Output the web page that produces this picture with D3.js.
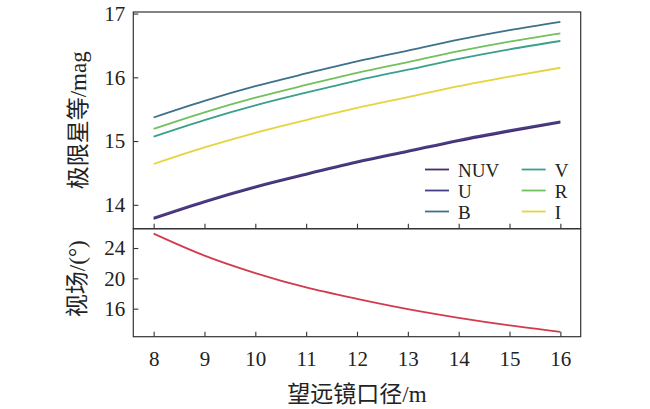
<!DOCTYPE html>
<html>
<head>
<meta charset="utf-8">
<script src="https://cdnjs.cloudflare.com/ajax/libs/d3/7.8.5/d3.min.js"></script>
<style>
  body { margin: 0; background: #fff; }
  svg text { font-family: "Liberation Serif", "Noto Sans CJK SC", serif; fill: #222; }
</style>
</head>
<body>
<svg id="chart" width="650" height="409"></svg>
<script>
// aperture (m)
const apertures = [8, 9, 10, 11, 12, 13, 14, 15, 16];

// limiting magnitude per band (mag)
const magNUV = [13.78, 14.04, 14.27, 14.47, 14.66, 14.83, 15.00, 15.15, 15.29];
const magU   = [13.80, 14.06, 14.29, 14.49, 14.68, 14.85, 15.02, 15.17, 15.31];
const magB   = [15.37, 15.63, 15.86, 16.06, 16.25, 16.42, 16.59, 16.74, 16.87];
const magV   = [15.07, 15.33, 15.56, 15.76, 15.95, 16.12, 16.29, 16.44, 16.57];
const magR   = [15.19, 15.45, 15.68, 15.88, 16.07, 16.24, 16.41, 16.56, 16.69];
const magI   = [14.64, 14.90, 15.13, 15.33, 15.52, 15.69, 15.86, 16.01, 16.15];

// field of view (deg)
const fov = [25.9, 23.0, 20.7, 18.8, 17.3, 15.95, 14.8, 13.8, 12.95];

const xTicks = [8, 9, 10, 11, 12, 13, 14, 15, 16];
const magTicks = [14, 15, 16, 17];
const fovTicks = [16, 20, 24];

const bands = [
  { name: 'NUV', values: magNUV, color: '#4a2a6e' },
  { name: 'U',   values: magU,   color: '#433f86' },
  { name: 'B',   values: magB,   color: '#3d7189' },
  { name: 'V',   values: magV,   color: '#38a08c' },
  { name: 'R',   values: magR,   color: '#72c05e' },
  { name: 'I',   values: magI,   color: '#e6d43e' }
];

const svg = d3.select('#chart');
const left = 133.3, right = 580.7;
const top1 = 12, bot1 = 228.7, bot2 = 336.7;
const axisColor = '#333';

const pad = (ext) => {
  const r = ext[1] - ext[0];
  return [ext[0] - r * 0.05, ext[1] + r * 0.05];
};

const x = d3.scaleLinear()
  .domain(pad(d3.extent(apertures)))
  .range([left, right]);

const allMag = bands.flatMap(b => b.values);
const yMag = d3.scaleLinear().domain(pad(d3.extent(allMag))).range([bot1, top1]);
const yFov = d3.scaleLinear().domain(pad(d3.extent(fov))).range([bot2, bot1]);

const fmt = d3.format('d');

function styleAxis(g) {
  g.attr('font-family', null);
  g.select('.domain').remove();
  g.selectAll('line').attr('stroke', axisColor).attr('stroke-width', 1.1);
  g.selectAll('text').style('font-size', '21px').attr('fill', '#222');
}

// top panel axes
svg.append('g')
  .attr('transform', `translate(${left},0)`)
  .call(d3.axisLeft(yMag).tickValues(magTicks).tickFormat(fmt).tickSize(-5).tickPadding(8))
  .call(styleAxis);

svg.append('g')
  .attr('transform', `translate(0,${bot1})`)
  .call(d3.axisBottom(x).tickValues(xTicks).tickSize(-5).tickFormat(''))
  .call(styleAxis);

// bottom panel axes
svg.append('g')
  .attr('transform', `translate(${left},0)`)
  .call(d3.axisLeft(yFov).tickValues(fovTicks).tickFormat(fmt).tickSize(-5).tickPadding(8))
  .call(styleAxis);

svg.append('g')
  .attr('transform', `translate(0,${bot2})`)
  .call(d3.axisBottom(x).tickValues(xTicks).tickFormat(fmt).tickSize(-5).tickPadding(14))
  .call(styleAxis);

// curves
const magLine = d3.line()
  .x((d, i) => x(apertures[i]))
  .y(d => yMag(d))
  .curve(d3.curveMonotoneX);

bands.forEach(b => {
  svg.append('path')
    .datum(b.values)
    .attr('d', magLine)
    .attr('fill', 'none')
    .attr('stroke', b.color)
    .attr('stroke-width', 1.8);
});

const fovLine = d3.line()
  .x((d, i) => x(apertures[i]))
  .y(d => yFov(d))
  .curve(d3.curveMonotoneX);

svg.append('path')
  .datum(fov)
  .attr('d', fovLine)
  .attr('fill', 'none')
  .attr('stroke', '#d23b4e')
  .attr('stroke-width', 1.8);

// frames
[[top1, bot1], [bot1, bot2]].forEach(([t, b]) => {
  svg.append('rect')
    .attr('x', left).attr('y', t)
    .attr('width', right - left).attr('height', b - t)
    .attr('fill', 'none')
    .attr('stroke', axisColor)
    .attr('stroke-width', 1.2);
});

// legend
const legendCols = [425, 521.7];
const legendRows = [169.5, 190.5, 211.5];
bands.forEach((b, i) => {
  const cx = legendCols[Math.floor(i / 3)];
  const cy = legendRows[i % 3];
  svg.append('line')
    .attr('x1', cx).attr('x2', cx + 24)
    .attr('y1', cy).attr('y2', cy)
    .attr('stroke', b.color)
    .attr('stroke-width', 1.8);
  svg.append('text')
    .attr('x', cx + 33)
    .attr('y', cy + 7)
    .style('font-size', '19px')
    .text(b.name);
});

// axis titles
svg.append('text')
  .attr('transform', `translate(86,${(top1 + bot1) / 2}) rotate(-90)`)
  .attr('text-anchor', 'middle')
  .style('font-size', '23px')
  .text('极限星等/mag');

svg.append('text')
  .attr('transform', `translate(85,${(bot1 + bot2) / 2 - 4}) rotate(-90)`)
  .attr('text-anchor', 'middle')
  .style('font-size', '23px')
  .text('视场/(°)');

svg.append('text')
  .attr('x', (left + right) / 2)
  .attr('y', 402)
  .attr('text-anchor', 'middle')
  .style('font-size', '23px')
  .text('望远镜口径/m');
</script>
</body>
</html>
